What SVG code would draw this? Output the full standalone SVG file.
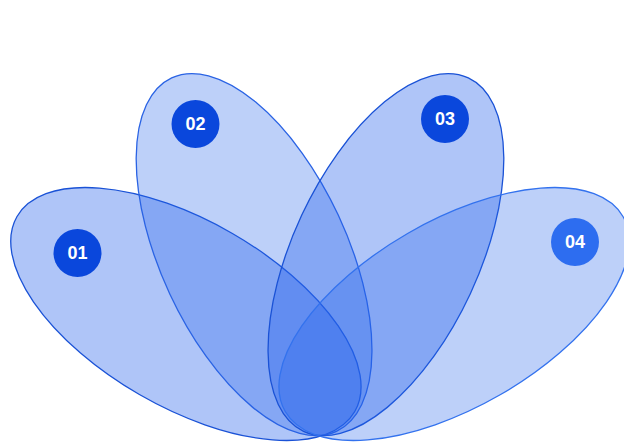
<svg xmlns="http://www.w3.org/2000/svg" width="624" height="444" viewBox="0 0 624 444">
  <style>
    .petal { stroke-width: 1.3; }
    .p1 { fill: #2563eb; fill-opacity: 0.37; stroke: #1a52d6; }
    .p2 { fill: #2563eb; fill-opacity: 0.3; stroke: #2a63e4; }
    .p3 { fill: #2563eb; fill-opacity: 0.37; stroke: #1a52d6; }
    .p4 { fill: #2563eb; fill-opacity: 0.3; stroke: #3372ee; }
    .badge { fill: #0a47dc; }
    .badge4 { fill: #2d6df0; }
    .num { font-family: "Liberation Sans", Arial, sans-serif; font-weight: bold; font-size: 18px; fill: #ffffff; text-anchor: middle; dominant-baseline: central; }
  </style>
  <rect width="624" height="444" fill="#ffffff"/>
  <g id="petal-01">
    <ellipse class="petal p1" cx="320" cy="240" rx="93" ry="195" transform="translate(1 -4) rotate(-60 320 396)"/>
  </g>
  <g id="petal-02">
    <ellipse class="petal p2" cx="320" cy="240" rx="93" ry="195" transform="rotate(-25 320 396)"/>
  </g>
  <g id="petal-03">
    <ellipse class="petal p3" cx="320" cy="240" rx="93" ry="195" transform="rotate(25 320 396)"/>
  </g>
  <g id="petal-04">
    <ellipse class="petal p4" cx="320" cy="240" rx="93" ry="195" transform="translate(-1 -4) rotate(60 320 396)"/>
  </g>
  <g id="badge-01">
    <circle class="badge" cx="77.5" cy="253" r="24"/>
    <text class="num" x="77.5" y="253">01</text>
  </g>
  <g id="badge-02">
    <circle class="badge" cx="195.5" cy="124" r="24"/>
    <text class="num" x="195.5" y="124">02</text>
  </g>
  <g id="badge-03">
    <circle class="badge" cx="445" cy="119" r="24"/>
    <text class="num" x="445" y="119">03</text>
  </g>
  <g id="badge-04">
    <circle class="badge4" cx="575" cy="242" r="24"/>
    <text class="num" x="575" y="242">04</text>
  </g>
</svg>
